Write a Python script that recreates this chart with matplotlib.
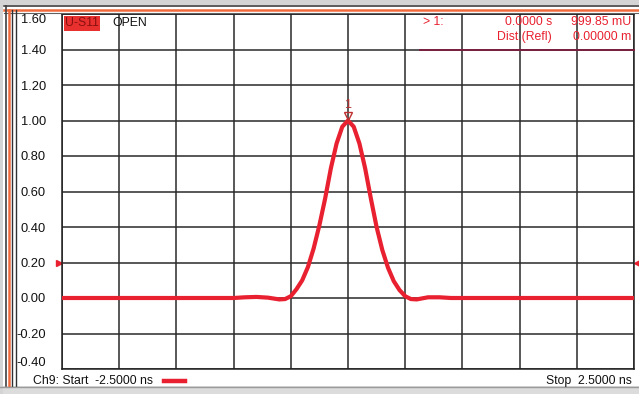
import matplotlib
matplotlib.use("Agg")
import matplotlib.pyplot as plt
from matplotlib.lines import Line2D
from matplotlib.patches import Rectangle
import matplotlib.transforms as mtransforms

# ---- data ----
time_ns = [-2.5, -2.0, -1.5, -1.1, -1.0, -0.9, -0.8, -0.7, -0.6, -0.55, -0.5,
           -0.45, -0.4, -0.35, -0.3, -0.25, -0.2, -0.15, -0.1, -0.05, 0.0,
           0.05, 0.1, 0.15, 0.2, 0.25, 0.3, 0.35, 0.4, 0.45, 0.5, 0.55,
           0.6, 0.7, 0.8, 0.9, 1.0, 1.5, 2.0, 2.5]
value_u = [0.0, 0.0, 0.0, 0.0, 0.0, 0.004, 0.006, 0.002, -0.008, -0.006, 0.01,
           0.05, 0.10, 0.175, 0.28, 0.41, 0.56, 0.73, 0.87, 0.965, 1.0,
           0.965, 0.87, 0.73, 0.56, 0.40, 0.27, 0.17, 0.095, 0.045, 0.01, -0.006,
           -0.008, 0.004, 0.004, 0.0, 0.0, 0.0, 0.0, 0.0]
y_ticks = [-0.4, -0.2, 0.0, 0.2, 0.4, 0.6, 0.8, 1.0, 1.2, 1.4, 1.6]
y_tick_labels = ["-0.40", "-0.20", "0.00", "0.20", "0.40", "0.60", "0.80",
                 "1.00", "1.20", "1.40", "1.60"]
x_ticks = [-2.5, -2.0, -1.5, -1.0, -0.5, 0.0, 0.5, 1.0, 1.5, 2.0, 2.5]
marker_x, marker_y = 0.0, 1.0
ref_level = 0.2

RED = "#e8202f"
FONT = "Liberation Sans"
FS = 8.8
plt.rcParams["font.family"] = [FONT, "DejaVu Sans"]

W, H = 639, 394
fig = plt.figure(figsize=(W / 100, H / 100), dpi=100, facecolor="white")

def fx(px):
    return px / W

def fy(py):
    return 1 - py / H

# window decorations
fig.patches.append(Rectangle((0, fy(5)), 1, fy(0) - fy(5), transform=fig.transFigure,
                             facecolor="#d4d4d4", edgecolor="none", zorder=0))
fig.patches.append(Rectangle((0, 0), 1, fy(386), transform=fig.transFigure,
                             facecolor="#dcdcdc", edgecolor="none", zorder=0))
fig.patches.append(Rectangle((0, 0), fx(3), 1, transform=fig.transFigure,
                             facecolor="#d4d4d4", edgecolor="none", zorder=0))
for yy, c, lw in [(5.5, "#404040", 1.2), (10, "#f06a3c", 1.8), (12.5, "#606060", 0.8)]:
    fig.lines.append(Line2D([fx(4), 1], [fy(yy), fy(yy)], transform=fig.transFigure,
                            color=c, lw=lw))
for xx, c, lw in [(5.5, "#404040", 1.2), (9, "#f06a3c", 1.8), (12, "#303030", 1.0), (15.5, "#303030", 1.0)]:
    fig.lines.append(Line2D([fx(xx), fx(xx)], [fy(386), fy(5.5 if xx < 7 else 10)],
                            transform=fig.transFigure, color=c, lw=lw))
fig.lines.append(Line2D([0, 1], [fy(386.5), fy(386.5)], transform=fig.transFigure,
                        color="#9a9a9a", lw=1.0))

ax = fig.add_axes([fx(62), fy(369), fx(634) - fx(62), fy(14) - fy(369)])
ax.set_facecolor("white")
ax.set_xlim(-2.5, 2.5)
ax.set_ylim(-0.4, 1.6)
ax.set_xticks(x_ticks)
ax.set_xticklabels([])
ax.set_yticks(y_ticks)
ax.set_yticklabels(y_tick_labels)
ax.tick_params(axis="both", length=0, pad=11.5, labelsize=9.3, colors="#111111")
ax.grid(True, color="#2a2a2a", lw=1.1)
ax.set_axisbelow(True)
for s in ax.spines.values():
    s.set_color("#202020")
    s.set_linewidth(1.1)
labels = ax.get_yticklabels()
labels[-1].set_va("top")
labels[0].set_va("bottom")

ax.plot(time_ns, value_u, color=RED, lw=3.0, solid_capstyle="round", zorder=3)

# marker 1 at peak
off = mtransforms.offset_copy(ax.transData, fig=fig, x=0, y=3, units="points")
ax.plot([marker_x], [marker_y], marker="v", ms=6, mfc="none", mec="#c03030",
        mew=1.0, transform=off, zorder=4, clip_on=False)
ax.annotate("1", (marker_x, marker_y), xytext=(0, 7), textcoords="offset points",
            ha="center", va="bottom", fontsize=9, color="#b03030")

# reference level markers
offl = mtransforms.offset_copy(ax.transData, fig=fig, x=-2.5, y=0, units="points")
ax.plot([-2.5], [ref_level], marker=">", ms=5, color=RED, transform=offl, clip_on=False)
offr = mtransforms.offset_copy(ax.transData, fig=fig, x=2.5, y=0, units="points")
ax.plot([2.5], [ref_level], marker="<", ms=5, color=RED, transform=offr, clip_on=False)

# top-left trace label
fig.text(fx(65), fy(23.5), "U-S11", fontsize=FS, color="#8a1010", va="center", ha="left",
         bbox=dict(boxstyle="square,pad=0.1", facecolor="#e8302e", edgecolor="none"))
fig.text(fx(112), fy(23.5), "OPEN", fontsize=FS, color="#111111", va="center", ha="left")

# marker readout
fig.text(fx(423), fy(22), "> 1:", fontsize=FS, color=RED, va="center", ha="left")
fig.text(fx(552), fy(22), "0.0000 s", fontsize=FS, color=RED, va="center", ha="right")
fig.text(fx(631), fy(22), "999.85 mU", fontsize=FS, color=RED, va="center", ha="right")
fig.text(fx(552), fy(37), "Dist.(Refl)", fontsize=FS, color=RED, va="center", ha="right")
fig.text(fx(631), fy(37), "0.00000 m", fontsize=FS, color=RED, va="center", ha="right")
fig.lines.append(Line2D([fx(420), fx(634)], [fy(49.5), fy(49.5)], transform=fig.transFigure,
                        color="#7a2040", lw=1.4, zorder=5))

# bottom status
fig.text(fx(33), fy(381), "Ch9: Start  -2.5000 ns", fontsize=FS, color="#111111",
         va="center", ha="left")
fig.lines.append(Line2D([fx(164), fx(185)], [fy(381), fy(381)], transform=fig.transFigure,
                        color=RED, lw=3.2))
fig.text(fx(632), fy(381), "Stop  2.5000 ns", fontsize=FS, color="#111111",
         va="center", ha="right")

fig.savefig("out.png", dpi=100, facecolor="white")
